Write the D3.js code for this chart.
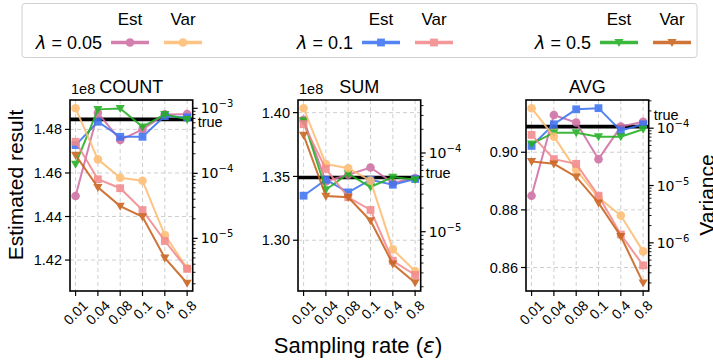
<!DOCTYPE html>
<html>
<head>
<meta charset="utf-8">
<script src="https://cdn.jsdelivr.net/npm/d3@7"></script>
<style>
  body { margin: 0; background: #fff; }
  text { font-family: "Liberation Sans", Arial, sans-serif; fill: #000; }
</style>
</head>
<body>
<svg id="chart" width="713" height="361"></svg>
<script>
// ---- data ----
const rates = ["0.01", "0.04", "0.08", "0.1", "0.4", "0.8"];
const titles = ["COUNT", "SUM", "AVG"];
const lambdas = ["0.05", "0.1", "0.5"];

// estimated results (COUNT, SUM in units of 1e8)
const countEst005 = [1.4494, 1.4876, 1.4751, 1.4800, 1.4869, 1.4870];
const countEst01  = [1.4728, 1.4835, 1.4766, 1.4766, 1.4861, 1.4855];
const countEst05  = [1.4641, 1.4892, 1.4896, 1.4812, 1.4869, 1.4846];
const sumEst005   = [1.3943, 1.3460, 1.3513, 1.3570, 1.3449, 1.3487];
const sumEst01    = [1.3349, 1.3474, 1.3375, 1.3474, 1.3435, 1.3480];
const sumEst05    = [1.3938, 1.3396, 1.3521, 1.3417, 1.3495, 1.3474];
const avgEst005   = [0.8849, 0.9129, 0.9103, 0.8976, 0.9089, 0.9106];
const avgEst01    = [0.9022, 0.9097, 0.9149, 0.9153, 0.9075, 0.9097];
const avgEst05    = [0.9029, 0.9068, 0.9068, 0.9054, 0.9054, 0.9080];

// variances
const countVar005 = [1.0e-3, 1.64e-4, 8.55e-5, 7.7e-5, 1.12e-5, 3.47e-6];
const countVar01  = [3.06e-4, 8.1e-5, 5.9e-5, 2.72e-5, 9.1e-6, 3.39e-6];
const countVar05  = [1.91e-4, 6.1e-5, 3.14e-5, 2.15e-5, 5.0e-6, 2.04e-6];
const sumVar005   = [3.7e-4, 7.24e-5, 6.4e-5, 4.45e-5, 5.97e-6, 3.16e-6];
const sumVar01    = [2.32e-4, 6.27e-5, 2.74e-5, 1.89e-5, 4.28e-6, 2.82e-6];
const sumVar05    = [1.69e-4, 2.84e-5, 2.74e-5, 1.38e-5, 3.89e-6, 2.25e-6];
const avgVar005   = [2.23e-4, 7.14e-5, 1.88e-5, 6.17e-6, 2.99e-6, 7.1e-7];
const avgVar01    = [7.64e-5, 2.89e-5, 2.39e-5, 6.65e-6, 1.4e-6, 4.04e-7];
const avgVar05    = [2.63e-5, 2.39e-5, 1.41e-5, 4.97e-6, 1.3e-6, 2.0e-7];

const trueVals = [1.4846, 1.3492, 0.90888];
const leftTicks = [[1.42, 1.44, 1.46, 1.48], [1.30, 1.35, 1.40], [0.86, 0.88, 0.90]];

const estData = [[countEst005, countEst01, countEst05], [sumEst005, sumEst01, sumEst05], [avgEst005, avgEst01, avgEst05]];
const varData = [[countVar005, countVar01, countVar05], [sumVar005, sumVar01, sumVar05], [avgVar005, avgVar01, avgVar05]];

// ---- styles / layout ----
const estColors = ["#cf6fa3", "#3d73f2", "#22b022"];
const varColors = ["#fdbc73", "#f2898c", "#c8621c"];
const shapes = ["circle", "square", "tri"];

const panelX = [70, 298, 526];
const pw = 122.7, plotTop = 100, plotBottom = 291;
const yDomains = [[1.4058, 1.4935], [1.2602, 1.4099], [0.85185, 0.91813]];
const varDomains = [[-5.81, -2.872], [-5.753, -3.327], [-6.84, -3.508]].map(d => d.map(v => Math.pow(10, v)));
const trueDy = [8, 0.5, -7];

const svg = d3.select('#chart');

function marker(sel, shape, color) {
  if (shape === "circle") {
    sel.append("circle").attr("r", 4.3).attr("fill", color);
  } else if (shape === "square") {
    sel.append("rect").attr("x", -3.9).attr("y", -3.9).attr("width", 7.8).attr("height", 7.8).attr("fill", color);
  } else {
    sel.append("path").attr("d", "M-4.6,-3.4L4.6,-3.4L0,4.6Z").attr("fill", color);
  }
}

function drawSeries(g, values, x, y, color, shape) {
  const s = g.append("g").attr("opacity", 0.88);
  const line = d3.line().x((d, i) => x(rates[i])).y(d => y(d));
  s.append("path").attr("d", line(values)).attr("fill", "none")
    .attr("stroke", color).attr("stroke-width", 2);
  values.forEach((v, i) => {
    s.append("g").attr("transform", `translate(${x(rates[i])},${y(v)})`)
      .call(marker, shape, color);
  });
}

titles.forEach((title, p) => {
  const g = svg.append("g").attr("transform", `translate(${panelX[p]},0)`);
  const x = d3.scalePoint().domain(rates).range([0, pw]).padding(0.25);
  const y = d3.scaleLinear().domain(yDomains[p]).range([plotBottom, plotTop]);
  const y2 = d3.scaleLog().domain(varDomains[p]).range([plotBottom, plotTop]);

  // grid
  const grid = g.append("g").attr("stroke", "#cfcfcf").attr("stroke-width", 1).attr("stroke-dasharray", "4,3");
  rates.forEach(r => grid.append("line").attr("x1", x(r)).attr("x2", x(r)).attr("y1", plotTop).attr("y2", plotBottom));
  leftTicks[p].forEach(t => grid.append("line").attr("x1", 0).attr("x2", pw).attr("y1", y(t)).attr("y2", y(t)));

  // true value
  g.append("line").attr("x1", 0).attr("x2", pw).attr("y1", y(trueVals[p])).attr("y2", y(trueVals[p]))
    .attr("stroke", "#000").attr("stroke-width", 3.6);
  g.append("text").attr("x", pw + 5).attr("y", y(trueVals[p]) + trueDy[p])
    .attr("font-size", "14.5px").text("true");

  estData[p].forEach((vals, k) => drawSeries(g, vals, x, y, estColors[k], shapes[k]));
  varData[p].forEach((vals, k) => drawSeries(g, vals, x, y2, varColors[k], shapes[k]));

  // frame
  g.append("rect").attr("x", 0).attr("y", plotTop).attr("width", pw).attr("height", plotBottom - plotTop)
    .attr("fill", "none").attr("stroke", "#000").attr("stroke-width", 1.6);

  // left axis
  leftTicks[p].forEach(t => {
    g.append("line").attr("x1", -5).attr("x2", 0).attr("y1", y(t)).attr("y2", y(t)).attr("stroke", "#000").attr("stroke-width", 1.2);
    g.append("text").attr("x", -8).attr("y", y(t)).attr("dy", "0.35em").attr("text-anchor", "end")
      .attr("font-size", "14.5px").text(d3.format(".2f")(t));
  });
  if (p < 2) {
    g.append("text").attr("x", 1).attr("y", 94).attr("font-size", "14.5px").text("1e8");
  }

  // right log axis
  const [lo, hi] = y2.domain();
  for (let k = Math.floor(Math.log10(lo)); k <= Math.ceil(Math.log10(hi)); k++) {
    for (let m = 1; m <= 9; m++) {
      const v = m * Math.pow(10, k);
      if (v < lo || v > hi) continue;
      const major = m === 1;
      g.append("line").attr("x1", pw).attr("x2", pw + (major ? 5 : 2.8)).attr("y1", y2(v)).attr("y2", y2(v))
        .attr("stroke", "#000").attr("stroke-width", major ? 1.2 : 0.9);
      if (major) {
        const t = g.append("text").attr("x", pw + 8).attr("y", y2(v) + 5)
          .style("font-family", "'DejaVu Sans', sans-serif").attr("font-size", "14px");
        t.append("tspan").text("10");
        t.append("tspan").attr("dy", -6).attr("font-size", "10px")
          .text(String(k).replace("-", "\u2212"));
      }
    }
  }

  // x axis
  rates.forEach(r => {
    g.append("line").attr("x1", x(r)).attr("x2", x(r)).attr("y1", plotBottom).attr("y2", plotBottom + 5)
      .attr("stroke", "#000").attr("stroke-width", 1.2);
    const t = g.append("text").attr("font-size", "14px").attr("text-anchor", "middle")
      .attr("dominant-baseline", "central").text(r);
    const L = t.node().getComputedTextLength();
    const half = (L + 11) / (2 * Math.SQRT2);
    t.attr("transform", `translate(${x(r)},${plotBottom + 8 + half}) rotate(-45)`);
  });

  g.append("text").attr("x", pw / 2).attr("y", 93).attr("text-anchor", "middle")
    .attr("font-size", "18px").text(title);
});

// axis labels
svg.append("text").attr("transform", "translate(23,185) rotate(-90)").attr("text-anchor", "middle")
  .attr("font-size", "21px").text("Estimated result");
svg.append("text").attr("transform", "translate(714,195) rotate(-90)").attr("text-anchor", "middle")
  .attr("font-size", "21px").text("Variance");
const xl = svg.append("text").attr("x", 358).attr("y", 353).attr("text-anchor", "middle").attr("font-size", "22px");
xl.append("tspan").text("Sampling rate (");
xl.append("tspan").style("font-family", "'DejaVu Sans', sans-serif").attr("font-style", "italic").text("\u03b5");
xl.append("tspan").text(")");

// legend
const leg = svg.append("g");
leg.append("rect").attr("x", 22).attr("y", 3.5).attr("width", 675).attr("height", 54).attr("rx", 3)
  .attr("fill", "#fff").attr("stroke", "#d0d0d0").attr("stroke-width", 1);
const legStart = [111, 362, 600];
const lineLen = 38, lineGap = 53, legY = 42.5;
lambdas.forEach((lam, k) => {
  const x0 = legStart[k];
  const t = leg.append("text").attr("x", x0 - 9).attr("y", legY + 6.5).attr("text-anchor", "end").attr("font-size", "18px");
  t.append("tspan").style("font-family", "'DejaVu Sans', sans-serif").attr("font-style", "italic").text("\u03bb");
  t.append("tspan").text(" = " + lam);
  [[estColors[k], "Est"], [varColors[k], "Var"]].forEach(([c, lab], j) => {
    const lx = x0 + j * lineGap;
    const gg = leg.append("g").attr("opacity", 0.88);
    gg.append("line").attr("x1", lx).attr("x2", lx + lineLen).attr("y1", legY).attr("y2", legY)
      .attr("stroke", c).attr("stroke-width", 3.5);
    gg.append("g").attr("transform", `translate(${lx + lineLen / 2},${legY})`).call(marker, shapes[k], c);
    leg.append("text").attr("x", lx + lineLen / 2).attr("y", 25).attr("text-anchor", "middle")
      .attr("font-size", "17px").text(lab);
  });
});
</script>
</body>
</html>
